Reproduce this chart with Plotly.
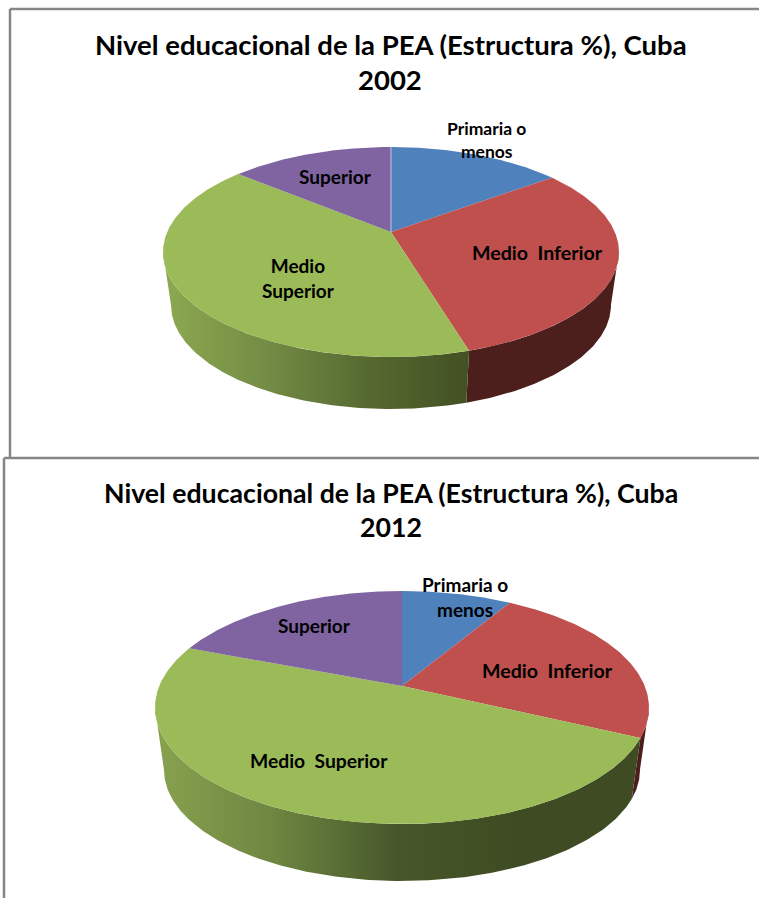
import numpy as np
import plotly.graph_objects as go

W, H = 759, 898

categories = ["Primaria o menos", "Medio Inferior", "Medio Superior", "Superior"]
label_text = ["Primaria o<br>menos", "Medio\u00a0 Inferior", "Medio<br>Superior", "Superior"]
label_text_2012 = ["Primaria o<br>menos", "Medio\u00a0 Inferior", "Medio\u00a0 Superior", "Superior"]
values_2002 = [14.8, 30.6, 40.7, 13.9]
values_2012 = [8.6, 23.4, 48.8, 19.2]
title_line = "Nivel educacional de la PEA (Estructura %), Cuba"

top_colors = ["#4F81BD", "#C0504D", "#9BBB59", "#8064A2"]
RED_SIDE = "#4C1F1D"
GREEN_STOPS_2002 = ["#8DA950", "#748C45", "#566A30", "#435023"]
GREEN_STOPS_2012 = ["#88A24F", "#6D8540", "#46572A", "#3F4B22", "#3F4B22"]


def make_geom(cx, apex_y, top_y, bot_y, rx, bcy, brx, bry):
    up, down = apex_y - top_y, bot_y - apex_y
    c = (down - up) / (down + up)
    a = up * (1 + c)
    cy = (top_y + bot_y) / 2
    ry = (bot_y - top_y) / 2
    yc = apex_y - cy
    vc = yc / (a - c * yc)
    d = rx * (1 + c * vc) / np.sqrt(1 - vc ** 2)
    return dict(cx=cx, ay=apex_y, a=a, c=c, d=d, cy=cy, rx=rx, ry=ry, bcy=bcy, brx=brx, bry=bry)


def rim(g, theta):
    u, v = np.sin(theta), np.cos(theta)
    w = 1 + g["c"] * v
    return g["cx"] + g["d"] * u / w, g["ay"] - g["a"] * v / w


def lower(g, x, y):
    return (g["cx"] + (x - g["cx"]) * g["brx"] / g["rx"],
            g["bcy"] + (y - g["cy"]) * g["bry"] / g["ry"])


def add_pie(fig, values, g, green_stops, seam=False):
    fr = np.cumsum([0] + list(values)) / sum(values) * 2 * np.pi
    # side walls first: only what faces the viewer
    for i, name in enumerate(categories):
        th = np.linspace(fr[i], fr[i + 1], 240)
        x, y = rim(g, th)
        keep = np.arange(len(th))[(y >= g["cy"] - 1)]
        if name == "Superior" or name == "Primaria o menos" or len(keep) < 2:
            continue
        x, y = x[keep], y[keep]
        bx, by = lower(g, x, y)
        px = np.r_[x, bx[::-1], x[0]]
        py = np.r_[y, by[::-1], y[0]]
        kw = {}
        if i == 2:
            n = len(green_stops) - 1
            kw["fillgradient"] = dict(
                type="horizontal",
                colorscale=[[k / n, col] for k, col in enumerate(green_stops)],
            )
        else:
            kw["fillcolor"] = RED_SIDE
        fig.add_trace(go.Scatter(x=px, y=py, mode="lines", fill="toself",
                                 line=dict(width=0), hoverinfo="skip", showlegend=False, **kw))
    # top faces
    for i, name in enumerate(categories):
        th = np.linspace(fr[i], fr[i + 1], 240)
        x, y = rim(g, th)
        fig.add_trace(go.Scatter(x=np.r_[g["cx"], x, g["cx"]], y=np.r_[g["ay"], y, g["ay"]],
                                 mode="lines", fill="toself", fillcolor=top_colors[i],
                                 line=dict(width=0), name=name, showlegend=False,
                                 hovertemplate=name + ": %{text}%<extra></extra>",
                                 text=[values[i]] * (len(th) + 2)))
    if seam:
        x0, y0 = rim(g, fr[0])
        fig.add_trace(go.Scatter(x=[x0, g["cx"]], y=[y0, g["ay"]], mode="lines",
                                 line=dict(width=1, color="#C4C6DE"),
                                 hoverinfo="skip", showlegend=False))


fig = go.Figure()
g02 = make_geom(391, 232, 147, 357, 228, 305, 220, 104)
g12 = make_geom(402, 686, 591, 824, 247, 770, 238, 111)
add_pie(fig, values_2002, g02, GREEN_STOPS_2002, seam=True)
add_pie(fig, values_2012, g12, GREEN_STOPS_2012)

FONT = "Lato, Carlito, Calibri, sans-serif"
notes = []


def txt(x, y, s, size):
    notes.append(dict(x=x, y=y, text=s, showarrow=False, xref="x", yref="y",
                      xanchor="center", yanchor="middle",
                      font=dict(family=FONT, size=size, color="#000000", weight="bold")))


txt(391, 44, title_line, 27.5)
txt(390, 79, "2002", 27.5)
txt(391, 493, title_line, 26.7)
txt(391, 527, "2012", 26.7)

sizes_2002 = [17.5, 19.6, 19, 19]
sizes_2012 = [19, 19.6, 19.3, 19]
for s, sz, (x, y) in zip(label_text, sizes_2002, [(486, 140), (537, 252), (298, 278), (335, 176)]):
    txt(x, y, s, sz)
for s, sz, (x, y) in zip(label_text_2012, sizes_2012, [(465, 597), (547, 670), (319, 760), (314, 625)]):
    txt(x, y, s, sz)

LINE = dict(color="#868686", width=2.5)
shapes = [
    dict(type="line", x0=10, x1=10, y0=9, y1=458, line=LINE),
    dict(type="line", x0=10, x1=W, y0=9, y1=9, line=LINE),
    dict(type="line", x0=4, x1=W, y0=458, y1=458, line=LINE),
    dict(type="line", x0=4, x1=4, y0=458, y1=H, line=LINE),
]

fig.update_layout(
    width=W, height=H, margin=dict(l=0, r=0, t=0, b=0), autosize=False,
    paper_bgcolor="#FFFFFF", plot_bgcolor="#FFFFFF", showlegend=False,
    xaxis=dict(range=[0, W], visible=False, fixedrange=True),
    yaxis=dict(range=[H, 0], visible=False, fixedrange=True),
    annotations=notes, shapes=shapes,
)
fig.write_html("out.html", config=dict(displayModeBar=False),
               post_script="document.body.style.margin='0';document.body.style.overflow='hidden';")
